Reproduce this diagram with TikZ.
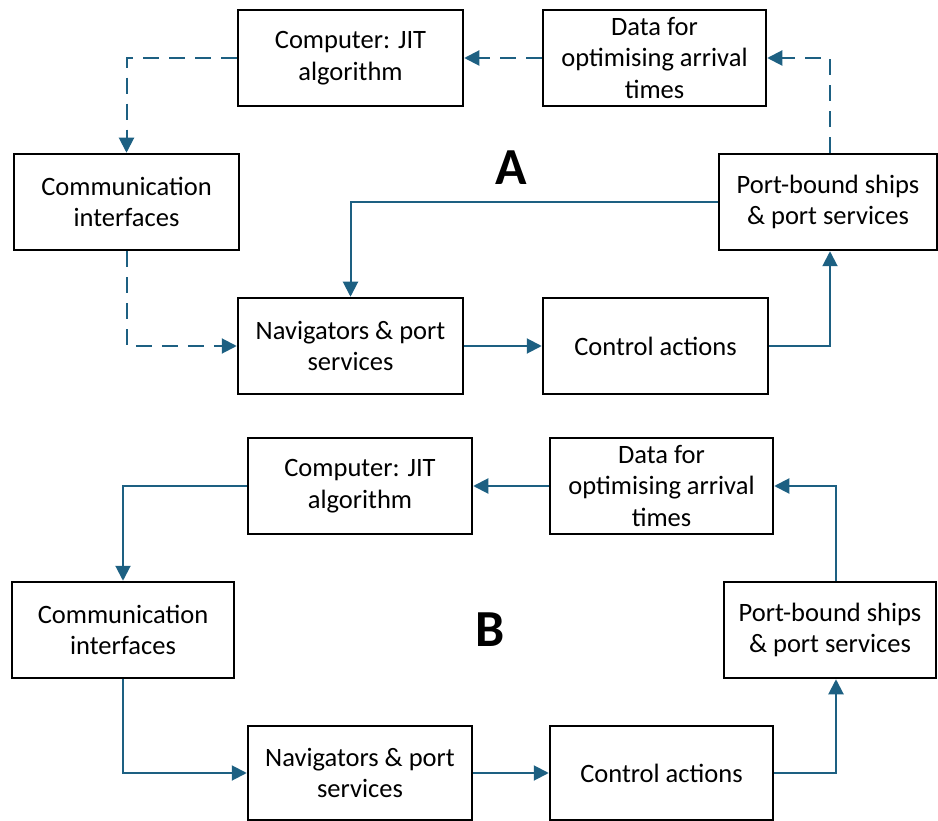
\documentclass[tikz,border=0pt]{standalone}
\usepackage{fontspec}
\setmainfont{Carlito}
\usetikzlibrary{arrows.meta}
\definecolor{flow}{HTML}{1D6082}
\begin{document}
\begin{tikzpicture}[x=1pt,y=-1pt,
  box/.style={draw=black,line width=2.5pt,fill=white,inner sep=0pt,align=center,
    font=\fontsize{26.5}{31.5}\selectfont},
  link/.style={draw=flow,line width=2pt,-{Triangle[length=15pt,width=15pt]}},
  dlink/.style={link,dash pattern=on 16pt off 10pt},
  big/.style={font=\fontsize{52}{60}\selectfont\bfseries}]
\useasboundingbox (0,0) rectangle (938,821);
% ---------- A ----------
\node[box,minimum width=225pt,minimum height=96pt] (cA) at (350.5,58) {Computer: JIT\\algorithm};
\node[box,minimum width=223pt,minimum height=96pt] (dA) at (654.5,58) {Data for\\optimising arrival\\times};
\node[box,minimum width=225pt,minimum height=96pt] (iA) at (126.5,202) {Communication\\interfaces};
\node[box,minimum width=218pt,minimum height=96pt] (pA) at (828,202) {Port-bound ships\\\& port services};
\node[box,minimum width=225pt,minimum height=96pt] (nA) at (350.5,346) {Navigators \& port\\services};
\node[box,minimum width=225pt,minimum height=96pt] (kA) at (655.5,346) {Control actions};
\node[big] (lA) at (511,168) {A};
\draw[dlink] (dA.west) -- (cA.east);
\draw[dlink] (cA.west) -| (iA.north);
\draw[dlink] (pA.north -| 830,0) |- (dA.east);
\draw[dlink] (iA.south) |- (nA.west);
\draw[link] (pA.west) -| (nA.north);
\draw[link] (nA.east) -- (kA.west);
\draw[link] (kA.east) -| (pA.south -| 830,0);
% ---------- B ----------
\node[box,minimum width=224pt,minimum height=96pt] (cB) at (360,486) {Computer: JIT\\algorithm};
\node[box,minimum width=223pt,minimum height=96pt] (dB) at (661.5,486) {Data for\\optimising arrival\\times};
\node[box,minimum width=222pt,minimum height=96pt] (iB) at (123,630) {Communication\\interfaces};
\node[box,minimum width=212pt,minimum height=96pt] (pB) at (830,630) {Port-bound ships\\\& port services};
\node[box,minimum width=224pt,minimum height=94pt] (nB) at (360,773) {Navigators \& port\\services};
\node[box,minimum width=223pt,minimum height=94pt] (kB) at (661.5,773) {Control actions};
\node[big] (lB) at (490,630) {B};
\draw[link] (dB.west) -- (cB.east);
\draw[link] (cB.west) -| (iB.north);
\draw[link] (pB.north -| 836,0) |- (dB.east);
\draw[link] (iB.south) |- (nB.west);
\draw[link] (nB.east) -- (kB.west);
\draw[link] (kB.east) -| (pB.south -| 836,0);
\end{tikzpicture}
\end{document}
